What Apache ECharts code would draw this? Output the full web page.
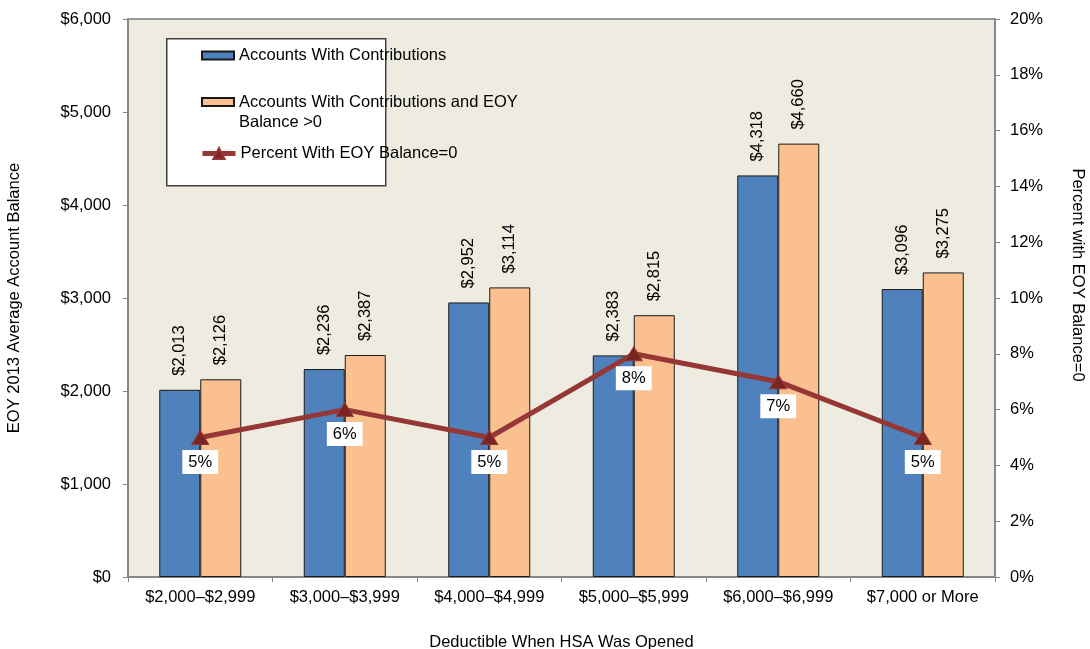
<!DOCTYPE html>
<html>
<head>
<meta charset="utf-8">
<script src="https://cdn.jsdelivr.net/npm/echarts@6/dist/echarts.min.js"></script>
<style>
  html, body { margin: 0; padding: 0; background: #fff; }
  #chart { width: 1090px; height: 649px; }
</style>
</head>
<body>
<div id="chart"></div>
<script>
var categories = ["$2,000\u2013$2,999", "$3,000\u2013$3,999", "$4,000\u2013$4,999", "$5,000\u2013$5,999", "$6,000\u2013$6,999", "$7,000 or More"];
var withContrib = [2013, 2236, 2952, 2383, 4318, 3096];
var withContribPos = [2126, 2387, 3114, 2815, 4660, 3275];
var pctZero = [5, 6, 5, 8, 7, 5];

var font = "Liberation Sans, Arial, sans-serif";
var fs = 16.5;
var s1 = "Accounts With Contributions";
var s2 = "Accounts With Contributions and EOY Balance >0";
var s3 = "Percent With EOY Balance=0";

function money(v) {
  return "$" + Number(v).toLocaleString("en-US");
}

var chart = echarts.init(document.getElementById("chart"));

var barLabel = {
  show: true,
  position: "top",
  rotate: 90,
  align: "left",
  verticalAlign: "middle",
  distance: 14,
  fontFamily: font,
  fontSize: fs,
  color: "#000",
  formatter: function (p) { return money(p.value); }
};

var option = {
  animation: false,
  textStyle: { fontFamily: font },
  grid: {
    left: 128, right: 95, top: 19, bottom: 72,
    outerBoundsMode: "none",
    containLabel: false,
    show: true,
    backgroundColor: "#EEECE1",
    borderColor: "#3a3a3a",
    borderWidth: 1
  },
  graphic: [{
    type: "rect",
    left: 166, top: 38,
    shape: { width: 219, height: 147 },
    style: { fill: "#fff", stroke: "#404040", lineWidth: 1.5 },
    z: 50
  }],
  legend: [
    {
      data: [s1], left: 201, top: 47, padding: 0,
      itemWidth: 32, itemHeight: 8, icon: "rect", z: 60,
      textStyle: { fontFamily: font, fontSize: fs, color: "#000" }
    },
    {
      data: [s2], left: 201, top: 72, padding: 0,
      itemWidth: 32, itemHeight: 8, icon: "rect", z: 60,
      formatter: function () { return "\nAccounts With Contributions and EOY\nBalance >0"; },
      textStyle: { fontFamily: font, fontSize: fs, color: "#000", lineHeight: 20 }
    },
    {
      data: [s3], left: 200, top: 145, padding: 0,
      itemWidth: 33, itemHeight: 14, z: 60,
      lineStyle: { width: 5, color: "#953735" },
      textStyle: { fontFamily: font, fontSize: fs, color: "#000" }
    }
  ],
  xAxis: {
    type: "category",
    data: categories,
    axisLine: { lineStyle: { color: "#878787", width: 2 } },
    axisTick: { show: true, interval: 0, alignWithLabel: false, length: 5, lineStyle: { color: "#878787" } },
    axisLabel: { interval: 0, color: "#000", fontSize: fs, fontFamily: font, margin: 12 },
    name: "Deductible When HSA Was Opened",
    nameLocation: "middle",
    nameGap: 57,
    nameTextStyle: { color: "#000", fontSize: fs, fontFamily: font }
  },
  yAxis: [
    {
      type: "value",
      min: 0, max: 6000, interval: 1000,
      axisLine: { show: true, lineStyle: { color: "#878787", width: 2 } },
      axisTick: { show: true, length: 5, lineStyle: { color: "#878787" } },
      splitLine: { show: false },
      axisLabel: { color: "#000", fontSize: fs, fontFamily: font, margin: 17, formatter: money },
      name: "EOY 2013 Average Account Balance",
      nameLocation: "middle",
      nameGap: 105,
      nameTextStyle: { color: "#000", fontSize: fs, fontFamily: font }
    },
    {
      type: "value",
      min: 0, max: 20, interval: 2,
      position: "right",
      axisLine: { show: true, lineStyle: { color: "#878787", width: 2 } },
      axisTick: { show: true, length: 5, lineStyle: { color: "#878787" } },
      splitLine: { show: false },
      axisLabel: { color: "#000", fontSize: fs, fontFamily: font, margin: 15, formatter: "{value}%" },
      name: "Percent with EOY Balance=0",
      nameLocation: "middle",
      nameRotate: -90,
      nameGap: 74,
      nameTextStyle: { color: "#000", fontSize: fs, fontFamily: font, padding: [0, 46, 0, 0] }
    }
  ],
  series: [
    {
      name: s1,
      type: "bar",
      data: withContrib,
      barWidth: 41,
      barGap: "0%",
      itemStyle: { color: "#4F81BD", borderColor: "#1a1a1a", borderWidth: 1 },
      label: barLabel
    },
    {
      name: s2,
      type: "bar",
      data: withContribPos,
      barWidth: 41,
      barGap: "0%",
      itemStyle: { color: "#FAC090", borderColor: "#1a1a1a", borderWidth: 1 },
      label: barLabel
    },
    {
      name: s3,
      type: "line",
      yAxisIndex: 1,
      data: pctZero,
      z: 10,
      symbol: "triangle",
      symbolSize: [17, 14],
      lineStyle: { color: "#953735", width: 5 },
      itemStyle: { color: "#7B2522", borderColor: "#953735", borderWidth: 1 },
      label: {
        show: true,
        position: "bottom",
        distance: 5,
        formatter: "{c}%",
        backgroundColor: "#fff",
        padding: [4, 6, 3, 6],
        color: "#000",
        fontSize: fs,
        fontFamily: font
      }
    }
  ]
};

chart.setOption(option);
</script>
</body>
</html>
